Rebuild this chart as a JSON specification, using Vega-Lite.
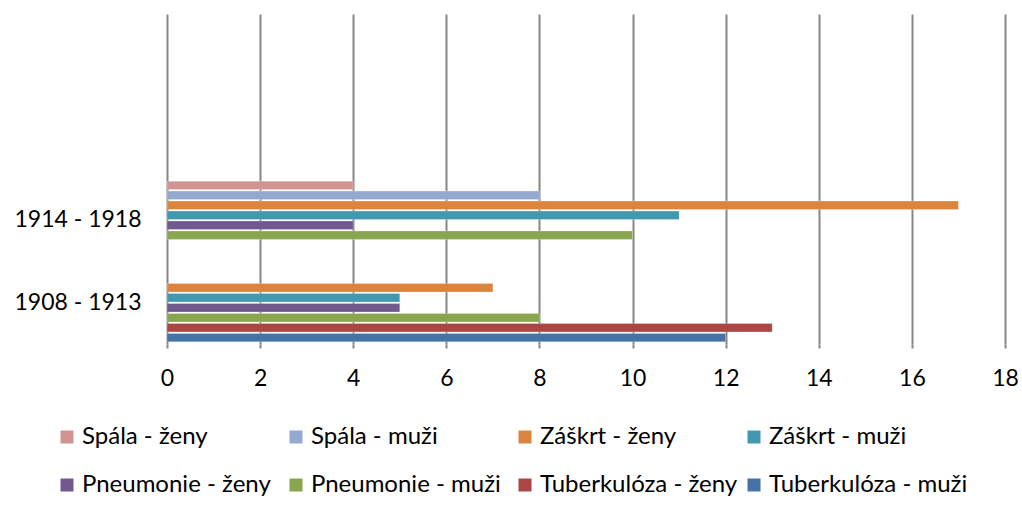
{
  "$schema": "https://vega.github.io/schema/vega-lite/v6.json",
  "autosize": "none",
  "width": 838,
  "height": 330,
  "padding": {"left": 167, "top": 14, "right": 17, "bottom": 169},
  "background": "white",
  "config": {"view": {"stroke": null}, "font": "Lato"},
  "data": {
    "values": [
      {"obdobi": "1914 - 1918", "serie": "Spála - ženy", "pocet": 4},
      {"obdobi": "1914 - 1918", "serie": "Spála - muži", "pocet": 8},
      {"obdobi": "1914 - 1918", "serie": "Záškrt - ženy", "pocet": 17},
      {"obdobi": "1914 - 1918", "serie": "Záškrt - muži", "pocet": 11},
      {"obdobi": "1914 - 1918", "serie": "Pneumonie - ženy", "pocet": 4},
      {"obdobi": "1914 - 1918", "serie": "Pneumonie - muži", "pocet": 10},
      {"obdobi": "1908 - 1913", "serie": "Záškrt - ženy", "pocet": 7},
      {"obdobi": "1908 - 1913", "serie": "Záškrt - muži", "pocet": 5},
      {"obdobi": "1908 - 1913", "serie": "Pneumonie - ženy", "pocet": 5},
      {"obdobi": "1908 - 1913", "serie": "Pneumonie - muži", "pocet": 8},
      {"obdobi": "1908 - 1913", "serie": "Tuberkulóza - ženy", "pocet": 13},
      {"obdobi": "1908 - 1913", "serie": "Tuberkulóza - muži", "pocet": 12}
    ]
  },
  "mark": {"type": "bar", "stroke": "white", "strokeOpacity": 0.5, "strokeWidth": 0.5},
  "encoding": {
    "y": {
      "field": "obdobi",
      "type": "nominal",
      "scale": {"domain": ["x1", "x2", "1914 - 1918", "1908 - 1913"], "paddingInner": 0.04, "paddingOuter": 0.02},
      "axis": {
        "title": null,
        "ticks": false,
        "domain": false,
        "labelExpr": "indexof(datum.value, '19') == 0 ? datum.value : ''",
        "labelFontSize": 23,
        "labelColor": "#000000",
        "labelPadding": 26
      }
    },
    "yOffset": {
      "field": "serie",
      "type": "nominal",
      "scale": {
        "domain": ["Spála - ženy", "Spála - muži", "Záškrt - ženy", "Záškrt - muži", "Pneumonie - ženy", "Pneumonie - muži", "Tuberkulóza - ženy", "Tuberkulóza - muži"],
        "paddingInner": 0.15,
        "paddingOuter": 0.05
      }
    },
    "x": {
      "field": "pocet",
      "type": "quantitative",
      "scale": {"domain": [0, 18], "nice": false},
      "axis": {
        "title": null,
        "values": [0, 2, 4, 6, 8, 10, 12, 14, 16, 18],
        "grid": true,
        "gridColor": "#868686",
        "gridWidth": 2,
        "domain": false,
        "ticks": true,
        "tickColor": "#868686",
        "tickWidth": 2,
        "tickSize": 4,
        "labelFontSize": 23,
        "labelColor": "#000000",
        "labelPadding": 19,
        "labelFlush": false
      }
    },
    "color": {
      "field": "serie",
      "type": "nominal",
      "scale": {
        "domain": ["Spála - ženy", "Spála - muži", "Záškrt - ženy", "Záškrt - muži", "Pneumonie - ženy", "Pneumonie - muži", "Tuberkulóza - ženy", "Tuberkulóza - muži"],
        "range": ["#D19392", "#93A9CF", "#DB843D", "#4198AF", "#71588F", "#89A54E", "#AA4643", "#4572A7"]
      },
      "legend": {
        "title": null,
        "orient": "none",
        "legendX": -112,
        "legendY": 411,
        "direction": "horizontal",
        "columns": 4,
        "gridAlign": "all",
        "symbolType": "square",
        "symbolSize": 169,
        "symbolStrokeWidth": 0,
        "labelFontSize": 24,
        "labelColor": "#000000",
        "labelOffset": 3,
        "labelLimit": 300,
        "columnPadding": 3,
        "rowPadding": 24
      }
    }
  }
}
